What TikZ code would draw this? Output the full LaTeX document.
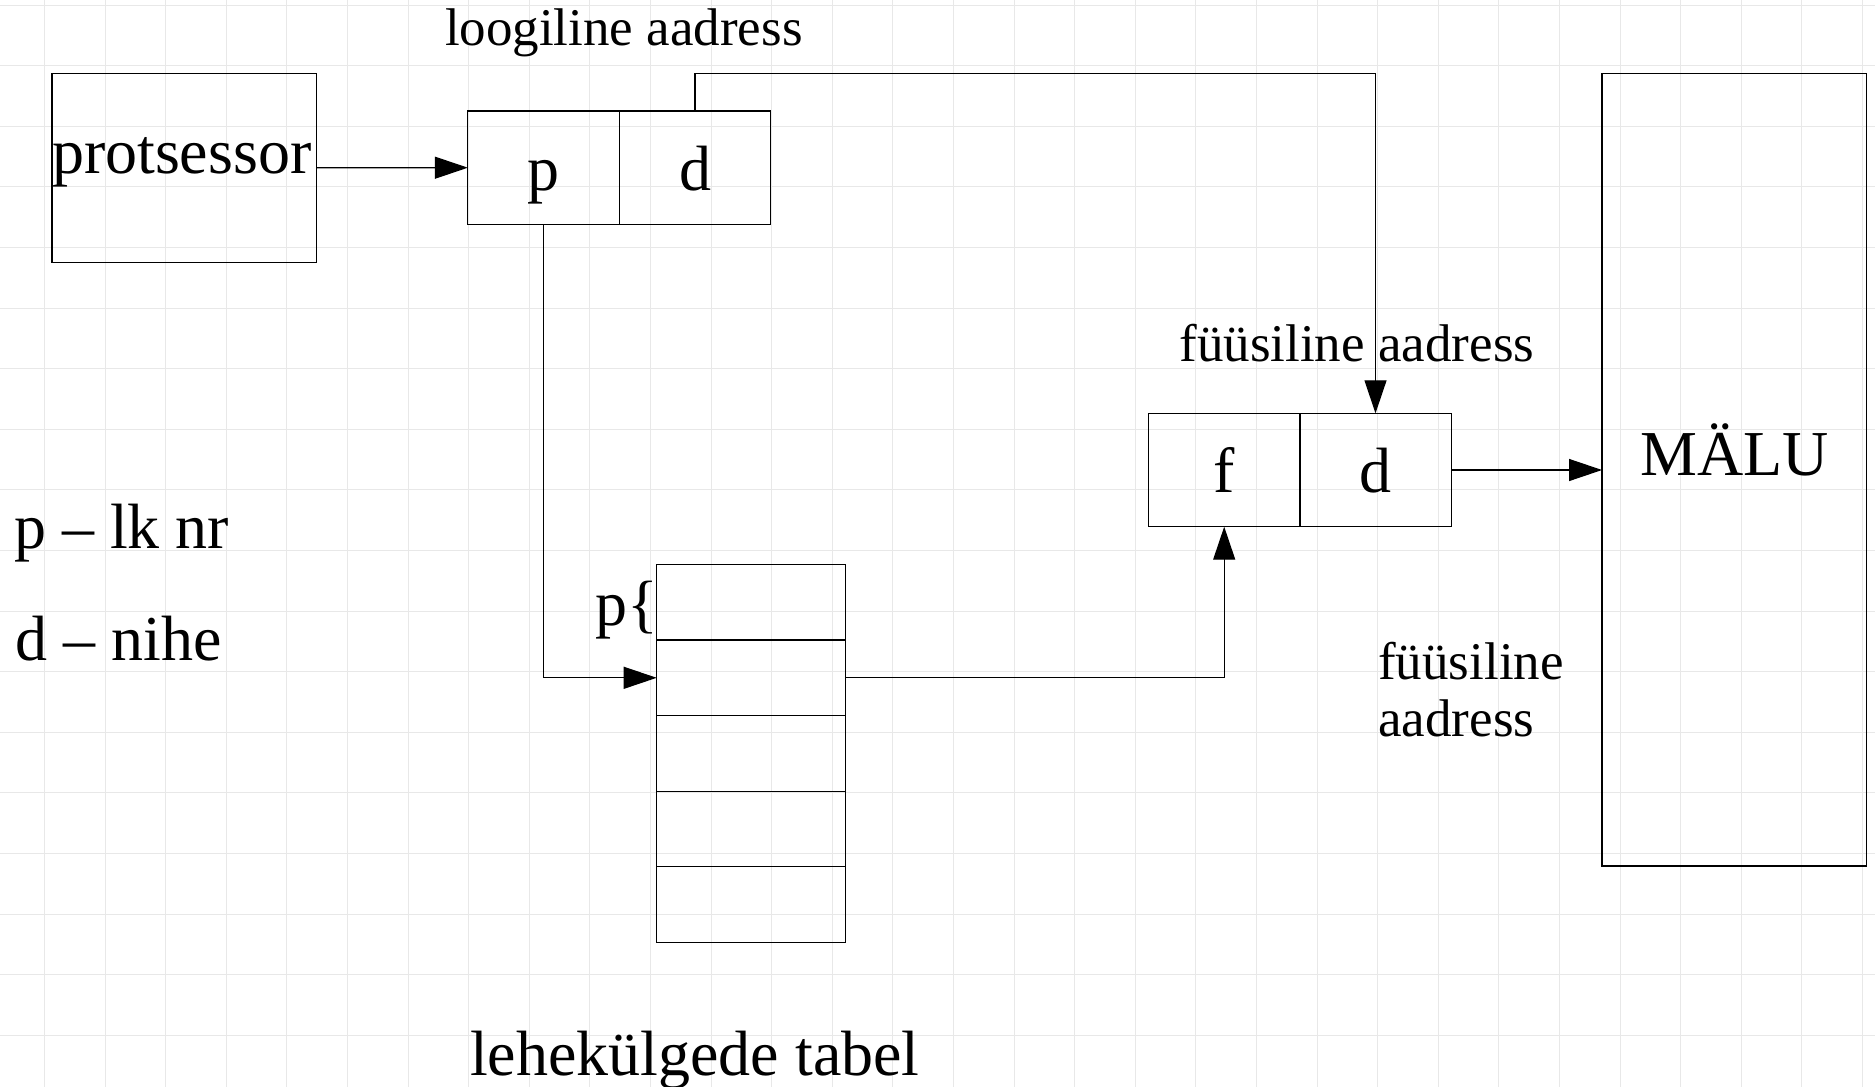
\documentclass[tikz,border=0pt]{standalone}
\usepackage{fontspec}
\setmainfont{Liberation Serif}
\usetikzlibrary{arrows.meta}
\definecolor{gridgray}{RGB}{232,232,232}
\begin{document}
\begin{tikzpicture}[x=1pt,y=-1pt,
  gridline/.style={draw=gridgray, line width=1pt},
  plainbox/.style={draw=black, line width=1.2pt, inner sep=0pt, outer sep=0pt},
  cell/.style={plainbox, minimum width=151.5pt, minimum height=113.4pt,
    font=\fontsize{64}{70}\selectfont, text height=50pt, text depth=5.4pt},
  tablerow/.style={plainbox, minimum width=189pt, minimum height=75.6pt},
  bigtext/.style={inner sep=0pt, outer sep=0pt, font=\fontsize{64}{70}\selectfont},
  smalltext/.style={inner sep=0pt, outer sep=0pt, font=\fontsize{53}{57.4}\selectfont},
  arr/.style={-{Triangle[length=33pt,width=22pt]}, line width=1.2pt, draw=black},
  link/.style={line width=1.2pt, draw=black}
]
\useasboundingbox (0,0) rectangle (1875,1087);
\fill[white] (0,0) rectangle (1875,1087);

% background grid
\foreach \k in {0,...,30}
  \draw[gridline] ({44.5+60.6*\k},0) -- ({44.5+60.6*\k},1087);
\foreach \k in {0,...,17}
  \draw[gridline] (0,{5+60.6*\k}) -- (1875,{5+60.6*\k});

% processor
\node[plainbox, minimum width=264.3pt, minimum height=189pt] (proc) at (184.2,167.8) {};
\node[bigtext, anchor=base west] (proctext) at (52,173) {protsessor};

% logical address
\node[cell] (lp) at (543.6,167.7) {p};
\node[cell] (ld) at (695,167.7) {d};
\node[smalltext, anchor=base west] (logaddr) at (445,45) {loogiline aadress};

% physical address
\node[cell] (pf) at (1224.2,470) {f};
\node[cell] (pd) at (1375.5,470) {d};
\node[smalltext, anchor=base west] (physaddr) at (1179.5,361) {füüsiline aadress};

% memory
\node[plainbox, minimum width=264.7pt, minimum height=792.5pt] (mem) at (1734.4,469.8) {};
\node[bigtext, anchor=base west] (memtext) at (1640.7,475) {MÄLU};

% page table
\foreach \i/\y in {1/602.2,2/677.8,3/753.4,4/829,5/904.6}
  \node[tablerow] (r\i) at (751.2,\y) {};
\node[bigtext, anchor=base west] (plabel) at (595,625) {p\{};
\node[bigtext, anchor=base west] (tablename) at (470,1075) {lehekülgede tabel};

% legend
\node[bigtext, anchor=base west] (legendp) at (14,548.3) {p – lk nr};
\node[bigtext, anchor=base west] (legendd) at (16,660) {d – nihe};

% note
\node[smalltext, anchor=base west] (physnotea) at (1378.3,679.3) {füüsiline};
\node[smalltext, anchor=base west] (physnoteb) at (1378.3,736.7) {aadress};

% connectors
\draw[arr] (proc.east) -- (lp.west);
\draw[arr] (ld.north) -- (ld.north |- proc.north) -| (pd.north);
\draw[arr] (lp.south) |- (r2.west);
\draw[arr] (r2.east) -| (pf.south);
\draw[arr] (pd.east) -- (pd.east -| mem.west);
\end{tikzpicture}
\end{document}
